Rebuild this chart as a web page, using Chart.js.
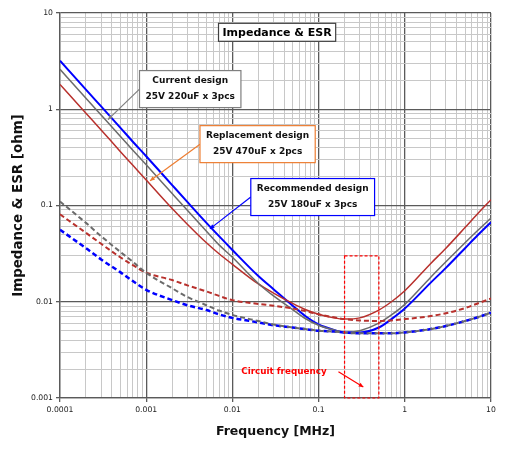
<!DOCTYPE html>
<html>
<head>
<meta charset="utf-8">
<script src="https://cdn.jsdelivr.net/npm/chart.js@4.4.1/dist/chart.umd.min.js"></script>
<style>
  html, body { margin: 0; padding: 0; background: #fff; }
</style>
</head>
<body>
<canvas id="myChart" width="510" height="452"></canvas>
<script>
// frequency points [MHz]
const freq = [0.0001, 0.0002, 0.0003, 0.0005, 0.0007, 0.001, 0.002, 0.003, 0.005, 0.007,
  0.01, 0.02, 0.03, 0.05, 0.07, 0.1, 0.15, 0.2, 0.3, 0.5, 0.7, 1, 2, 3, 5, 7, 10];

// impedance [ohm]
const zCurrent = [2.6, 1.3, 0.87, 0.525, 0.375, 0.265, 0.133, 0.089, 0.054, 0.039,
  0.029, 0.0155, 0.0115, 0.0083, 0.0067, 0.0057, 0.0051, 0.0048, 0.005, 0.006, 0.0073, 0.0094, 0.018, 0.026, 0.041, 0.055, 0.074];
const zReplace = [1.81, 0.91, 0.61, 0.365, 0.262, 0.184, 0.093, 0.064, 0.041, 0.0315,
  0.0245, 0.0153, 0.0123, 0.0096, 0.0083, 0.0074, 0.0068, 0.0066, 0.0068, 0.0082, 0.01, 0.013, 0.025, 0.036, 0.059, 0.082, 0.115];
const zRecommend = [3.2, 1.6, 1.07, 0.645, 0.46, 0.325, 0.163, 0.109, 0.066, 0.048,
  0.0345, 0.0185, 0.0135, 0.0091, 0.0071, 0.0058, 0.0051, 0.0048, 0.0048, 0.0054, 0.0066, 0.0085, 0.0158, 0.0225, 0.036, 0.049, 0.067];

// ESR [ohm]
const esrCurrent = [0.11, 0.066, 0.048, 0.033, 0.026, 0.02, 0.0138, 0.0112, 0.0092, 0.0081,
  0.0073, 0.0063, 0.0058, 0.0054, 0.0052, 0.005, 0.0049, 0.0048, 0.0047, 0.0047, 0.0047, 0.0048, 0.0052, 0.0056, 0.0063, 0.0069, 0.0077];
const esrReplace = [0.081, 0.052, 0.04, 0.029, 0.024, 0.02, 0.0168, 0.0148, 0.0128, 0.0115,
  0.0104, 0.0095, 0.0091, 0.0085, 0.008, 0.0074, 0.0069, 0.0066, 0.0064, 0.0063, 0.0064, 0.0066, 0.0071, 0.0076, 0.0086, 0.0096, 0.0108];
const esrRecommend = [0.056, 0.036, 0.0275, 0.0203, 0.0164, 0.0133, 0.0104, 0.0092, 0.0082, 0.0074,
  0.0068, 0.0061, 0.0057, 0.0054, 0.0052, 0.005, 0.0049, 0.0048, 0.0047, 0.0047, 0.0047, 0.0048, 0.0052, 0.0056, 0.0063, 0.0069, 0.0077];

const xTickLabels = ['0.0001', '0.001', '0.01', '0.1', '1', '10'];
const yTickLabels = ['0.001', '0.01', '0.1', '1', '10'];

const FONT = "'DejaVu Sans', Verdana, sans-serif";
const GRAY = '#6b6b6b', RED = '#b8302c', BLUE = '#0000ff';
const MAJOR = '#5a5a5a', MINOR = '#c8c8c8';

function toPoints(values) {
  return freq.map((f, i) => ({ x: f, y: values[i] }));
}

function isDecade(v) {
  const l = Math.log10(v);
  return Math.abs(l - Math.round(l)) < 1e-6;
}

// 1..9 x 10^n ticks between min and max
function logTicks(min, max) {
  const out = [];
  for (let e = Math.round(Math.log10(min)); e < Math.round(Math.log10(max)); e++) {
    for (let k = 1; k < 10; k++) out.push(Number((k * Math.pow(10, e)).toPrecision(3)));
  }
  out.push(max);
  return out.map(v => ({ value: v }));
}

function labelFrom(list) {
  return (value) => list.find(s => Math.abs(Number(s) / value - 1) < 1e-6) || '';
}

function gridOpts() {
  return {
    color: c => (c.tick && isDecade(c.tick.value)) ? MAJOR : MINOR,
    lineWidth: c => (c.tick && isDecade(c.tick.value)) ? 1.3 : 1,
    tickColor: c => (c.tick && isDecade(c.tick.value)) ? MAJOR : 'rgba(0,0,0,0)',
    tickLength: 4
  };
}

// text boxes, callouts and the circuit frequency marker
const notes = {
  title: { x: 0.033, y: 6.3, text: 'Impedance & ESR' },
  callouts: [
    { x: 0.00324, y: 1.62, lines: ['Current design', '25V 220uF x 3pcs'], color: '#7f7f7f', tip: [0.00036, 0.78] },
    { x: 0.0196, y: 0.434, lines: ['Replacement design', '25V 470uF x 2pcs'], color: '#ed7d31', tip: [0.00111, 0.181] },
    { x: 0.0854, y: 0.1224, lines: ['Recommended design', '25V 180uF x 3pcs'], color: '#0000ff', tip: [0.00548, 0.0572] }
  ],
  circuit: { x: 0.0396, y: 0.00187, text: 'Circuit frequency', from: [0.17, 0.00187], to: [0.33, 0.0013],
    band: [0.2, 0.5, 0.001, 0.03] }
};

function arrowHead(ctx, x0, y0, x1, y1, size) {
  const a = Math.atan2(y1 - y0, x1 - x0);
  ctx.beginPath();
  ctx.moveTo(x1, y1);
  ctx.lineTo(x1 - size * Math.cos(a - 0.45), y1 - size * Math.sin(a - 0.45));
  ctx.lineTo(x1 - size * Math.cos(a + 0.45), y1 - size * Math.sin(a + 0.45));
  ctx.closePath();
  ctx.fill();
}

const notePlugin = {
  id: 'notes',
  afterDatasetsDraw(chart) {
    const ctx = chart.ctx, sx = chart.scales.x, sy = chart.scales.y;
    const px = v => sx.getPixelForValue(v), py = v => sy.getPixelForValue(v);
    ctx.save();

    // circuit frequency band
    const b = notes.circuit.band;
    ctx.strokeStyle = '#ff0000';
    ctx.lineWidth = 1.2;
    ctx.setLineDash([3, 2]);
    ctx.strokeRect(px(b[0]), py(b[3]), px(b[1]) - px(b[0]), py(b[2]) - py(b[3]));
    ctx.setLineDash([]);

    // circuit frequency label + arrow
    ctx.fillStyle = '#ff0000';
    ctx.font = 'bold 8.8px ' + FONT;
    ctx.textAlign = 'center';
    ctx.textBaseline = 'middle';
    ctx.fillText(notes.circuit.text, px(notes.circuit.x), py(notes.circuit.y));
    const a0 = [px(notes.circuit.from[0]), py(notes.circuit.from[1])];
    const a1 = [px(notes.circuit.to[0]), py(notes.circuit.to[1])];
    ctx.beginPath();
    ctx.moveTo(a0[0], a0[1]);
    ctx.lineTo(a1[0], a1[1]);
    ctx.stroke();
    arrowHead(ctx, a0[0], a0[1], a1[0], a1[1], 5);

    // title box
    ctx.font = 'bold 11px ' + FONT;
    const tw = ctx.measureText(notes.title.text).width;
    const tx = px(notes.title.x), ty = py(notes.title.y);
    ctx.fillStyle = '#fff';
    ctx.fillRect(tx - tw / 2 - 4, ty - 9, tw + 8, 18);
    ctx.strokeStyle = '#404040';
    ctx.lineWidth = 1.2;
    ctx.strokeRect(tx - tw / 2 - 4, ty - 9, tw + 8, 18);
    ctx.fillStyle = '#000';
    ctx.fillText(notes.title.text, tx, ty + 0.5);

    // callouts
    ctx.font = 'bold 9px ' + FONT;
    notes.callouts.forEach(n => {
      const w = Math.max(...n.lines.map(s => ctx.measureText(s).width)) + 12;
      const h = 37;
      const cx = px(n.x), cy = py(n.y);
      const left = cx - w / 2, top = cy - h / 2;
      const t = [px(n.tip[0]), py(n.tip[1])];
      ctx.strokeStyle = n.color;
      ctx.fillStyle = n.color;
      ctx.lineWidth = 1.2;
      ctx.beginPath();
      ctx.moveTo(left, cy);
      ctx.lineTo(t[0], t[1]);
      ctx.stroke();
      arrowHead(ctx, left, cy, t[0], t[1], 5);
      ctx.fillStyle = '#fff';
      ctx.fillRect(left, top, w, h);
      ctx.strokeRect(left, top, w, h);
      ctx.fillStyle = '#111';
      ctx.fillText(n.lines[0], cx, cy - 8);
      ctx.fillText(n.lines[1], cx, cy + 8);
    });
    ctx.restore();
  }
};

function line(label, values, color, width, dashed) {
  return {
    label: label,
    data: toPoints(values),
    borderColor: color,
    borderWidth: width,
    borderDash: dashed ? [5, 3] : [],
    pointRadius: 0,
    fill: false,
    cubicInterpolationMode: 'monotone'
  };
}

const ctx = document.getElementById('myChart').getContext('2d');
const myChart = new Chart(ctx, {
  type: 'line',
  data: {
    datasets: [
      line('ESR current', esrCurrent, GRAY, 2, true),
      line('ESR replacement', esrReplace, RED, 2, true),
      line('ESR recommended', esrRecommend, BLUE, 2.5, true),
      line('Z current', zCurrent, GRAY, 1.5, false),
      line('Z replacement', zReplace, RED, 1.5, false),
      line('Z recommended', zRecommend, BLUE, 2, false)
    ]
  },
  options: {
    responsive: false,
    animation: false,
    layout: { padding: { top: 13, right: 19, bottom: 0, left: 0 } },
    plugins: { legend: { display: false }, tooltip: { enabled: false } },
    scales: {
      x: {
        type: 'logarithmic',
        min: 0.0001,
        max: 10,
        afterBuildTicks: s => { s.ticks = logTicks(0.0001, 10); },
        afterFit: s => { s.height = 54; },
        ticks: { autoSkip: false, maxRotation: 0, padding: 3, color: '#222',
          font: { family: FONT, size: 7.7 }, callback: labelFrom(xTickLabels) },
        grid: gridOpts(),
        border: { color: MAJOR, width: 1.3 },
        title: { display: true, text: 'Frequency [MHz]', color: '#111',
          font: { family: FONT, size: 12.5, weight: 'bold' }, padding: { top: 0, bottom: 13 } }
      },
      y: {
        type: 'logarithmic',
        min: 0.001,
        max: 10,
        afterBuildTicks: s => { s.ticks = logTicks(0.001, 10); },
        afterFit: s => { s.width = 60; },
        ticks: { autoSkip: false, padding: 3, color: '#222',
          font: { family: FONT, size: 7.7 }, callback: labelFrom(yTickLabels) },
        grid: gridOpts(),
        border: { color: MAJOR, width: 1.3 },
        title: { display: true, text: 'Impedance & ESR [ohm]', color: '#111',
          font: { family: FONT, size: 13.4, weight: 'bold' }, padding: { top: 10, bottom: 0 } }
      }
    }
  },
  plugins: [notePlugin]
});
</script>
</body>
</html>
